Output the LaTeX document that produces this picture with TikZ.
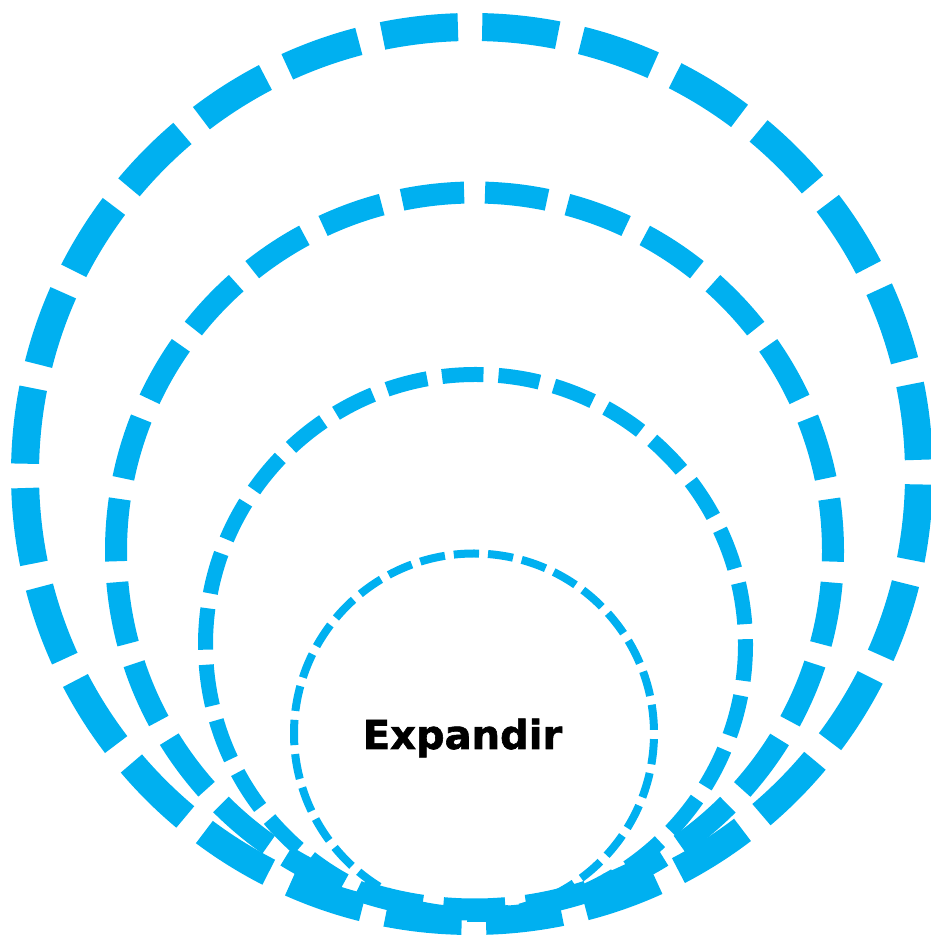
\documentclass[tikz,border=0pt]{standalone}
\usepackage{fontspec}
\setmainfont{DejaVu Sans}
\newfontfamily\heavyfont[FakeBold=1.5]{DejaVu Sans Bold}
\definecolor{ringblue}{RGB}{0,176,240}
\begin{document}
\begin{tikzpicture}[x=1pt, y=1pt, line cap=butt,
                ring/.style={draw=ringblue, line cap=butt}]

                \useasboundingbox (0,0) rectangle (930,936);

                \coordinate (c1) at (472,462);
                \coordinate (c2) at (474.5,385);
                \coordinate (c3) at (475.5,291.5);
                \coordinate (c4) at (474,202.5);

                \draw[ring, line width=28pt, dash pattern=on 76pt off 24.31pt, dash phase=86.15pt] (c1) circle[radius=447pt];
                \draw[ring, line width=22pt, dash pattern=on 62.5pt off 20.93pt, dash phase=10.4pt] (c2) circle[radius=358.5pt];
                \draw[ring, line width=15pt, dash pattern=on 41.5pt off 15.05pt, dash phase=36.2pt] (c3) circle[radius=270pt];
                \draw[ring, line width=8pt, dash pattern=on 25.3pt off 8.97pt, dash phase=30.7pt] (c4) circle[radius=180pt];

                \node[anchor=base, inner sep=0pt, font=\fontsize{40}{44}\heavyfont] (label) at (462.5,187) {Expandir};

            \end{tikzpicture}
\end{document}
